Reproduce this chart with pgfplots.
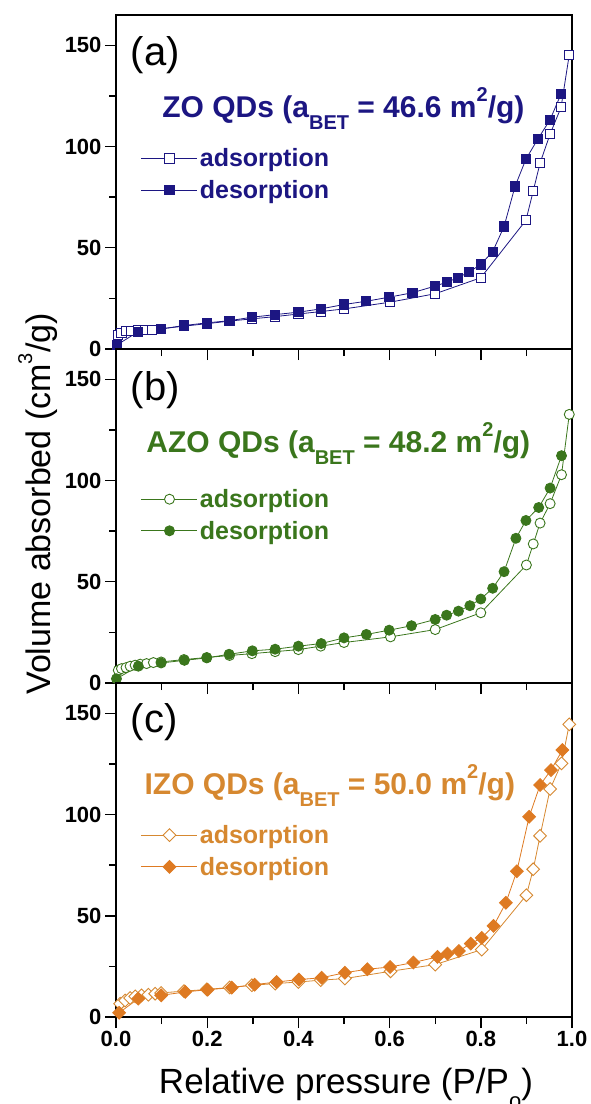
\documentclass[border=0pt]{standalone}
\usepackage{fontspec}
\setmainfont{Liberation Sans}
\usepackage{pgfplots}
\pgfplotsset{compat=1.18}
\definecolor{navy}{RGB}{28,22,130}
\definecolor{dgreen}{RGB}{58,118,28}
\definecolor{orng}{RGB}{222,122,34}
\definecolor{orngtxt}{RGB}{214,136,48}
\newcommand{\sub}[1]{\raisebox{-0.38em}{\fontsize{20}{20}\selectfont #1}}
\newcommand{\sups}[1]{\raisebox{0.55em}{\fontsize{20}{20}\selectfont #1}}
\pgfplotsset{
 panel/.style={
  scale only axis, width=456pt, height=334pt,
  xmin=0, xmax=1, ymin=0, ymax=165,
  axis line style={line width=1.6pt},
  xtick={0,0.2,0.4,0.6,0.8,1}, minor xtick={0.1,0.3,0.5,0.7,0.9},
  ytick={0,50,100,150}, minor ytick={25,75,125},
  tick align=outside, xtick pos=bottom, ytick pos=left,
  major tick length=11pt, minor tick length=7pt,
  every tick/.style={line width=1.4pt, black},
  /pgf/number format/assume math mode=true,
  tick label style={font=\bfseries\fontsize{22}{22}\selectfont},
  xticklabel style={/pgf/number format/.cd, fixed, fixed zerofill, precision=1},
  legend cell align=left,
  legend style={draw=none, fill=none, anchor=west, font=\bfseries\fontsize{25}{28}\selectfont, row sep=8pt},
  legend image code/.code={\draw[mark repeat=2,mark phase=2] plot coordinates {(0pt,0pt)(28pt,0pt)(56pt,0pt)};},
 },
 ads/.style={color=#1, line width=0.8pt},
 des/.style={color=#1, line width=0.8pt},
}
\begin{document}
\begin{tikzpicture}
\useasboundingbox (0pt,0pt) rectangle (590pt,-1104pt);
% ---------------- (a)
\begin{axis}[panel, at={(116pt,-15pt)}, anchor=north west, xticklabels={},
  legend style={at={(0.048,0.523)}, text=navy}]
\addplot[ads=navy, mark=square*, mark size=4.6pt, mark options={fill=white, line width=0.9pt}] coordinates {
(0.002,2)(0.004,7.1)(0.012,7.9)(0.023,8.8)(0.034,9.1)(0.049,9.6)(0.064,9.6)(0.078,9.6)(0.099,10)
(0.149,11.3)(0.199,12.5)(0.249,13.8)(0.298,14.9)(0.349,16)(0.4,17.3)(0.449,18.5)(0.5,19.8)
(0.6,23.1)(0.70,27.3)(0.80,35.2)(0.899,63.6)(0.915,78.1)(0.93,91.9)(0.952,106.2)(0.976,119.4)(0.994,145.4)};
\addlegendentry{adsorption}
\addplot[des=navy, mark=square*, mark size=4.6pt, mark options={fill=navy, line width=0.9pt}] coordinates {
(0.976,126)(0.952,113.3)(0.925,103.7)(0.899,93.8)(0.875,80.3)(0.851,60.5)(0.826,48.1)(0.80,41.8)
(0.774,38)(0.75,35.2)(0.725,33)(0.70,31.1)(0.65,27.8)(0.599,25.6)(0.549,23.6)(0.5,22)(0.449,19.8)
(0.4,18.2)(0.349,17)(0.298,15.7)(0.249,14)(0.199,12.9)(0.149,11.6)(0.099,9.9)(0.049,8.6)(0.002,2)};
\addlegendentry{desorption}
\node[anchor=west, font=\fontsize{40}{40}\selectfont] at (axis description cs:0.025,0.88) {(a)};
\node[anchor=base west, text=navy, font=\bfseries\fontsize{30}{32}\selectfont] at (axis description cs:0.094,0.692)
  {ZO QDs (a\sub{BET} = 46.6 m\sups{2}/g)};
\end{axis}
% ---------------- (b)
\begin{axis}[panel, at={(116pt,-349pt)}, anchor=north west, xticklabels={},
  legend style={at={(0.048,0.503)}, text=dgreen}]
\addplot[ads=dgreen, mark=*, mark size=5pt, mark options={fill=white, line width=0.9pt}] coordinates {
(0.005,6.3)(0.012,7.1)(0.022,7.6)(0.031,8.3)(0.042,8.8)(0.053,9.3)(0.067,9.6)(0.082,10.1)(0.099,10.4)
(0.149,11.6)(0.199,12.6)(0.249,13.6)(0.298,14.5)(0.349,15.5)(0.4,16.5)(0.449,18.2)(0.5,20)
(0.602,22.8)(0.70,26.4)(0.80,34.7)(0.90,58.3)(0.915,68.7)(0.93,79)(0.952,88.6)(0.977,102.9)(0.994,132.7)};
\addlegendentry{adsorption}
\addplot[des=dgreen, mark=*, mark size=5pt, mark options={fill=dgreen, line width=0.9pt}] coordinates {
(0.977,112.3)(0.952,96.3)(0.927,86.7)(0.899,80.3)(0.877,71.5)(0.851,55)(0.826,46.8)(0.80,41.5)
(0.776,38.2)(0.751,35.5)(0.725,33.5)(0.70,31.4)(0.648,28.3)(0.599,26.1)(0.549,24)(0.5,22.3)(0.45,19.5)
(0.4,18.2)(0.349,16.7)(0.299,15.9)(0.248,14.2)(0.199,12.4)(0.15,11.2)(0.099,9.9)(0.049,8.3)(0.001,2.1)};
\addlegendentry{desorption}
\node[anchor=west, font=\fontsize{40}{40}\selectfont] at (axis description cs:0.025,0.877) {(b)};
\node[anchor=base west, text=dgreen, font=\bfseries\fontsize{30}{32}\selectfont] at (axis description cs:0.059,0.689)
  {AZO QDs (a\sub{BET} = 48.2 m\sups{2}/g)};
\end{axis}
% ---------------- (c)
\begin{axis}[panel, at={(116pt,-683pt)}, anchor=north west,
  legend style={at={(0.048,0.497)}, text=orngtxt}]
\addplot[ads=orngtxt, mark=square*, mark size=4.5pt, mark options={rotate=45, fill=white, line width=0.9pt}] coordinates {
(0.009,6.6)(0.02,8.2)(0.031,9.4)(0.042,10.2)(0.056,10.7)(0.071,11)(0.086,11.5)(0.099,11.9)
(0.149,12.8)(0.199,13.6)(0.249,14.6)(0.298,15.7)(0.349,16.5)(0.4,17.3)(0.449,18.2)(0.502,19)
(0.602,22.6)(0.70,25.9)(0.802,33.3)(0.90,60.2)(0.915,73)(0.93,89.5)(0.952,112.6)(0.977,125.3)(0.994,144.6)};
\addlegendentry{adsorption}
\addplot[des=orng, mark=square*, mark size=4.5pt, mark options={rotate=45, fill=orng, line width=0.9pt}] coordinates {
(0.979,131.9)(0.954,122)(0.93,114.6)(0.906,98.9)(0.879,72)(0.855,56.4)(0.828,45)(0.802,39.1)
(0.778,36.3)(0.752,32.6)(0.727,31.3)(0.705,29.7)(0.652,26.9)(0.601,24.7)(0.551,23.6)(0.502,21.9)(0.451,19.4)
(0.401,18.5)(0.352,17.3)(0.304,16)(0.254,14.5)(0.201,13.5)(0.152,12.4)(0.099,10.7)(0.049,9.1)(0.007,2.1)};
\addlegendentry{desorption}
\node[anchor=west, font=\fontsize{40}{40}\selectfont] at (axis description cs:0.025,0.883) {(c)};
\node[anchor=base west, text=orngtxt, font=\bfseries\fontsize{30}{32}\selectfont] at (axis description cs:0.055,0.665)
  {IZO QDs (a\sub{BET} = 50.0 m\sups{2}/g)};
\end{axis}
% ---------------- axis titles
\node[rotate=90, font=\fontsize{34}{34}\selectfont] at (38pt,-504pt) {Volume absorbed (cm\sups{3}/g)};
\node[anchor=base, font=\fontsize{35}{35}\selectfont] at (346pt,-1093pt) {Relative pressure (P/P\raisebox{-0.45em}{\fontsize{22}{22}\selectfont o})};
\end{tikzpicture}
\end{document}
